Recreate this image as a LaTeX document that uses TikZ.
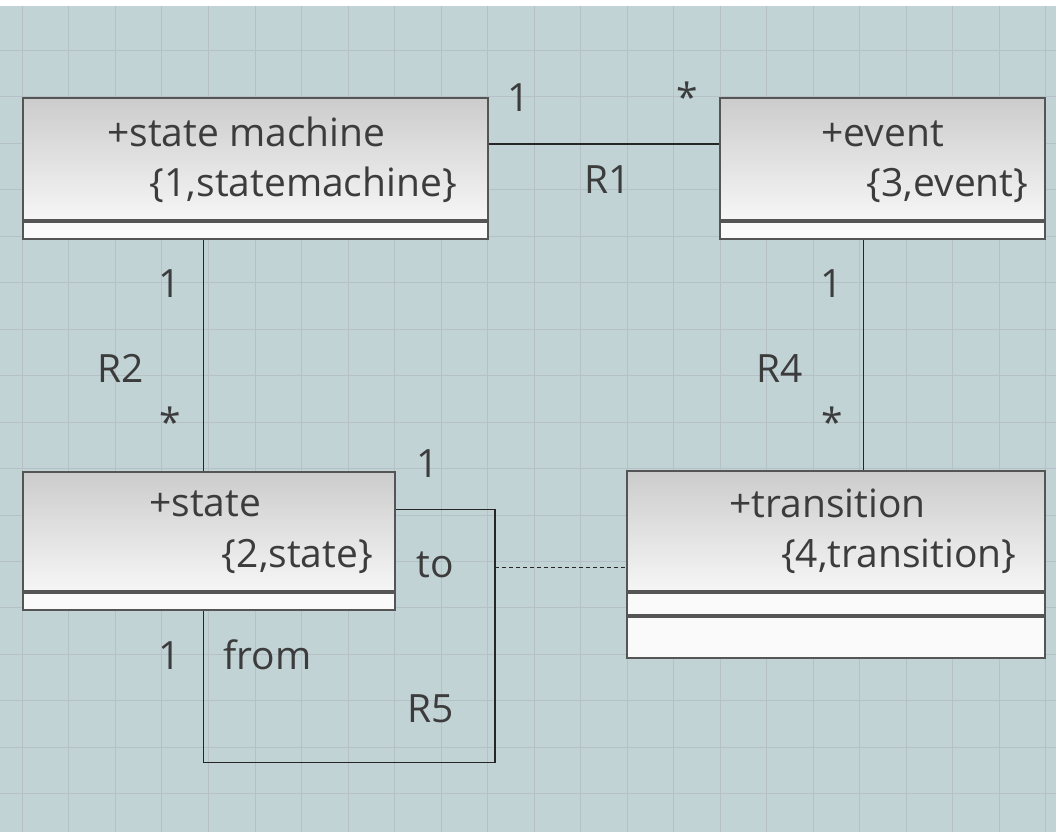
\documentclass[tikz,border=0pt]{standalone}
\usepackage{fontspec}
\setmainfont{Open Sans}
\usetikzlibrary{positioning}
\definecolor{canvas}{RGB}{194,211,214}
\definecolor{gridln}{RGB}{182,192,199}
\definecolor{boxln}{RGB}{85,85,85}
\definecolor{hdtop}{RGB}{204,204,204}
\definecolor{hdbot}{RGB}{246,246,246}
\definecolor{cmpfill}{RGB}{250,250,250}
\definecolor{ink}{RGB}{60,60,60}
\tikzset{
  header/.style={draw=boxln,line width=2pt,top color=hdtop,bottom color=hdbot,inner sep=0pt,anchor=north west},
  compart/.style={draw=boxln,line width=2pt,fill=cmpfill,inner sep=0pt,anchor=north west},
  assoc/.style={draw=black!85,line width=1.4pt},
  lbl/.style={text=ink,inner sep=0pt,anchor=base,font=\fontsize{39}{46}\selectfont},
}
\begin{document}
\begin{tikzpicture}[x=1pt,y=-1pt]
\fill[white] (0,0) rectangle (1056,833);
\fill[canvas] (0,6) rectangle (1056,833);
	\foreach \i in {0,...,22} {
		\draw[gridln,line width=1pt] (22+46.55*\i,6) -- (22+46.55*\i,833);
		}
	\foreach \j in {1,...,17} {
		\draw[gridln,line width=1pt] (0,4+46.5*\j) -- (1056,4+46.5*\j);
		}

\coordinate (r1) at (0,144);
\coordinate (r2) at (203,0);
\coordinate (r4) at (864,0);
\coordinate (r5a) at (0,510);
\coordinate (r5c) at (495,763);
\coordinate (r3) at (495,568);

\node[header,minimum width=465pt,minimum height=122pt] (sm) at (22,97) {};
\node[compart,minimum width=465pt,minimum height=17pt] (smc) at (sm.south west) {};
\node[header,minimum width=325pt,minimum height=122pt] (ev) at (719,97) {};
\node[compart,minimum width=325pt,minimum height=17pt] (evc) at (ev.south west) {};
\node[header,minimum width=372pt,minimum height=120pt] (st) at (22,471) {};
\node[compart,minimum width=372pt,minimum height=17pt] (stc) at (st.south west) {};
\node[header,minimum width=418pt,minimum height=121pt] (tr) at (626,470) {};
\node[compart,minimum width=418pt,minimum height=22pt] (tra) at (tr.south west) {};
\node[compart,minimum width=418pt,minimum height=41pt] (tro) at (tra.south west) {};

\node[lbl] (smname) at (246,147) {+state machine};
\node[lbl,anchor=base east] (smtag) at (457,197) {\{1,statemachine\}};
\node[lbl] (evname) at (883,147) {+event};
\node[lbl,anchor=base east] (evtag) at (1029,197) {\{3,event\}};
\node[lbl] (stname) at (205,517) {+state};
\node[lbl,anchor=base east] (sttag) at (373,568) {\{2,state\}};
\node[lbl] (trname) at (828,518) {+transition};
\node[lbl,anchor=base east] (trtag) at (1017,568) {\{4,transition\}};

\draw[assoc] (sm.east |- r1) -- (ev.west |- r1);
\draw[assoc] (smc.south -| r2) -- (st.north -| r2);
\draw[assoc] (evc.south -| r4) -- (tr.north -| r4);
\draw[assoc] (st.east |- r5a) -| (r5c) -| (stc.south -| r2);
\draw[assoc,dash pattern=on 4pt off 3pt,line width=1.5pt] (r3) -- (tr.west |- r3);

\node[lbl] (m1a) at (519,112) {1};
\node[lbl] (m1b) at (687,112) {*};
\node[lbl] (r1lbl) at (608,194) {R1};
\node[lbl] (m2a) at (169,298) {1};
\node[lbl] (r2lbl) at (120,383) {R2};
\node[lbl] (m2b) at (170,437) {*};
\node[lbl] (m4a) at (832,298) {1};
\node[lbl] (r4lbl) at (780,383) {R4};
\node[lbl] (m4b) at (833,437) {*};
\node[lbl] (m5a) at (428,478) {1};
\node[lbl] (tolbl) at (435,578) {to};
\node[lbl] (m5b) at (169,670) {1};
\node[lbl,anchor=base west] (fromlbl) at (223,670) {from};
\node[lbl] (r5lbl) at (431,723) {R5};
\end{tikzpicture}
\end{document}
